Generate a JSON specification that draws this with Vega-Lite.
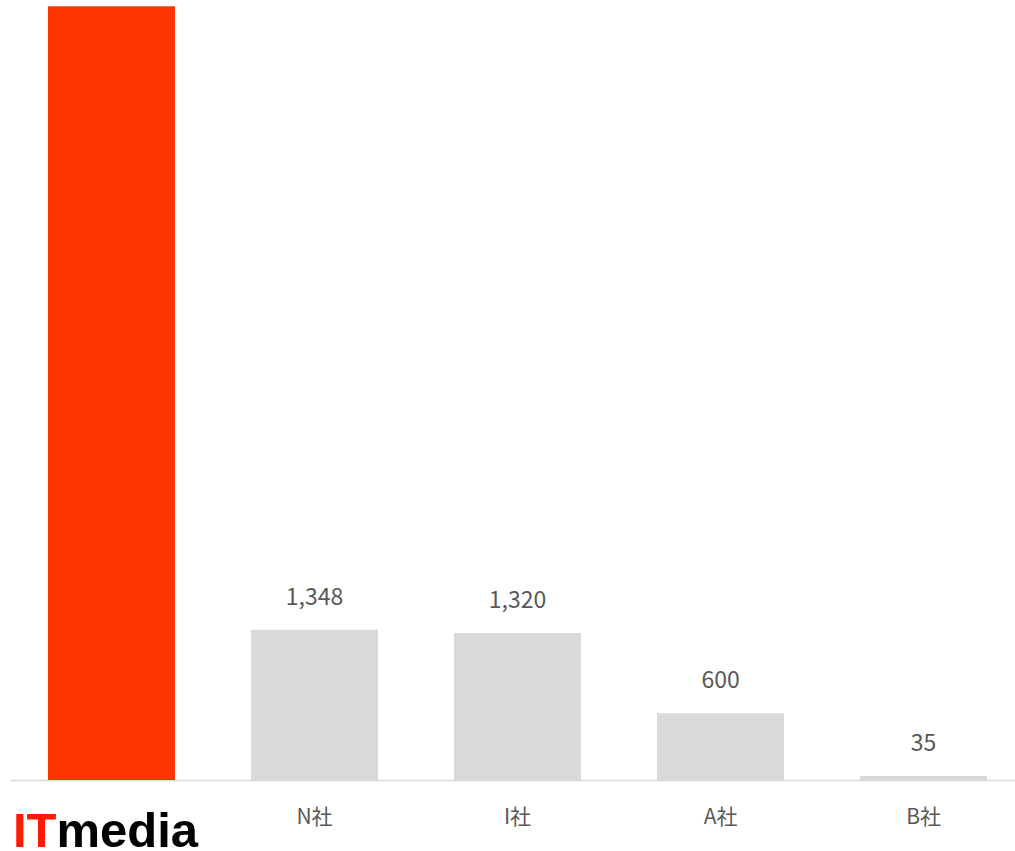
{
  "$schema": "https://vega.github.io/schema/vega-lite/v6.json",
  "autosize": {"type": "none"},
  "padding": {"left": 10, "top": 0, "right": 0, "bottom": 71},
  "width": 1015,
  "height": 780,
  "background": "white",
  "config": {"view": {"stroke": null}},
  "data": {"values": [
    {"company": "ITmedia", "value": 6945},
    {"company": "N社", "value": 1348},
    {"company": "I社", "value": 1320},
    {"company": "A社", "value": 600},
    {"company": "B社", "value": 35}
  ]},
  "encoding": {
    "x": {
      "field": "company", "type": "nominal", "sort": null,
      "scale": {"paddingInner": 0.3744, "paddingOuter": 0.187},
      "axis": {
        "title": null, "labelAngle": 0, "ticks": false,
        "domainColor": "#D9D9D9", "domainWidth": 1.5,
        "labelFont": "Noto Sans CJK JP", "labelFontSize": 21, "labelColor": "#595959",
        "labelPadding": 26,
        "labelExpr": "datum.value == 'ITmedia' ? '' : datum.value"
      }
    }
  },
  "layer": [
    {
      "mark": {"type": "bar"},
      "encoding": {
        "y": {"field": "value", "type": "quantitative", "scale": {"domain": [0, 7000]}, "axis": null},
        "color": {
          "field": "company", "type": "nominal", "legend": null,
          "scale": {"domain": ["ITmedia", "N社", "I社", "A社", "B社"], "range": ["#FF3300", "#D9D9D9", "#D9D9D9", "#D9D9D9", "#D9D9D9"]}
        }
      }
    },
    {
      "transform": [{"filter": "datum.company != 'ITmedia'"}],
      "mark": {"type": "text", "baseline": "alphabetic", "dy": -25, "font": "Noto Sans CJK JP", "fontSize": 23, "color": "#595959"},
      "encoding": {
        "y": {"field": "value", "type": "quantitative"},
        "text": {"field": "value", "type": "quantitative", "format": ","}
      }
    },
    {
      "data": {"values": [{"company": "ITmedia", "logo1": "IT", "logo2": "media"}]},
      "mark": {"type": "text", "align": "right", "baseline": "alphabetic", "dx": -55, "dy": 67, "font": "Liberation Sans", "fontWeight": "bold", "fontSize": 49, "color": "#FF1A00"},
      "encoding": {
        "y": {"datum": 0, "type": "quantitative"},
        "text": {"field": "logo1"}
      }
    },
    {
      "data": {"values": [{"company": "ITmedia", "logo1": "IT", "logo2": "media"}]},
      "mark": {"type": "text", "align": "left", "baseline": "alphabetic", "dx": -55, "dy": 67, "font": "Liberation Sans", "fontWeight": "bold", "fontSize": 49, "color": "#000000"},
      "encoding": {
        "y": {"datum": 0, "type": "quantitative"},
        "text": {"field": "logo2"}
      }
    }
  ]
}
